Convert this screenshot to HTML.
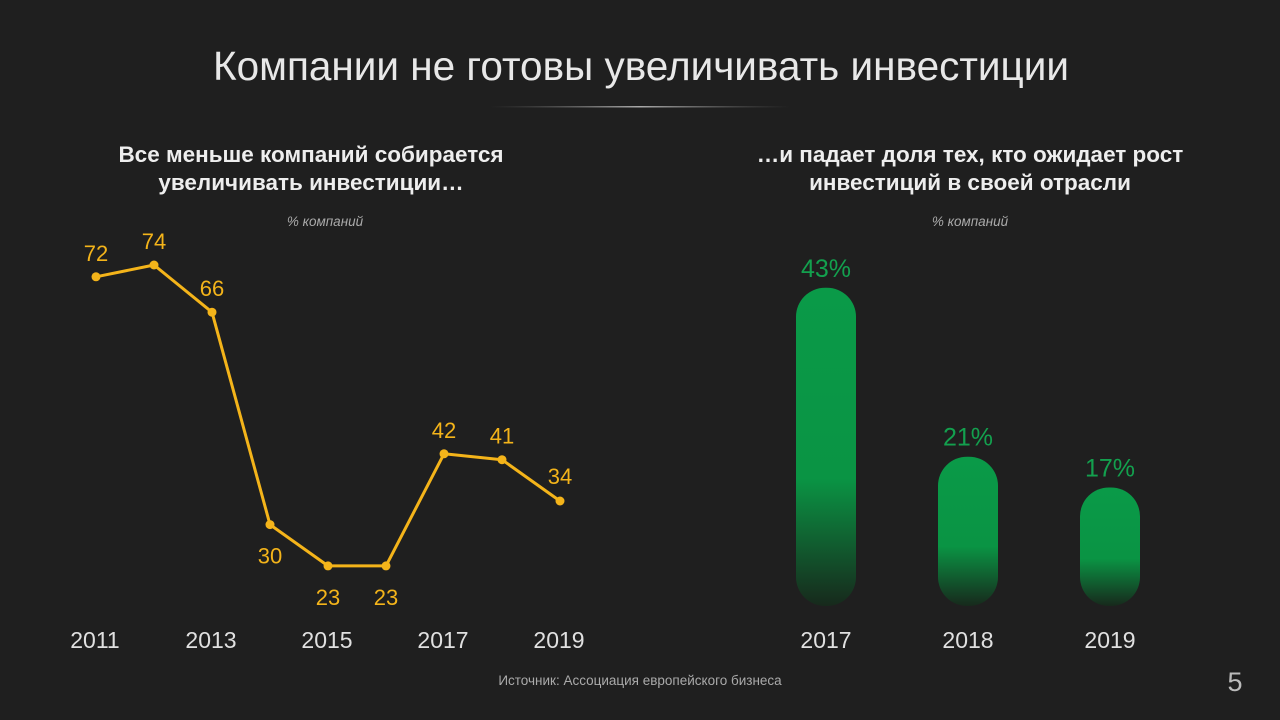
<!DOCTYPE html>
<html><head><meta charset="utf-8"><style>
body{margin:0;width:1280px;height:720px;background:#1f1f1f;overflow:hidden;font-family:"Liberation Sans",sans-serif;}
svg{display:block}
</style></head><body>
<svg width="1280" height="720">
<defs>
<linearGradient id="g" x1="0" y1="0" x2="0" y2="1">
<stop offset="0" stop-color="#0a9a48"/><stop offset="0.6" stop-color="#0a9444"/><stop offset="1" stop-color="#17291c"/>
</linearGradient>
<linearGradient id="hr" x1="0" x2="1"><stop offset="0" stop-color="#666" stop-opacity="0"/><stop offset="0.5" stop-color="#aaa"/><stop offset="1" stop-color="#666" stop-opacity="0"/></linearGradient>
</defs>
<text x="641" y="80" text-anchor="middle" fill="#e8e8e8" font-size="40.5">Компании не готовы увеличивать инвестиции</text>
<rect x="490" y="106" width="300" height="1.5" fill="url(#hr)"/>
<text x="311" y="162" text-anchor="middle" fill="#eee" font-size="22.5" font-weight="bold">Все меньше компаний собирается</text>
<text x="311" y="190" text-anchor="middle" fill="#eee" font-size="22.5" font-weight="bold">увеличивать инвестиции…</text>
<text x="325" y="226" text-anchor="middle" fill="#aaa" font-size="13.5" font-style="italic">% компаний</text>
<text x="970" y="162" text-anchor="middle" fill="#eee" font-size="22.5" font-weight="bold">…и падает доля тех, кто ожидает рост</text>
<text x="970" y="190" text-anchor="middle" fill="#eee" font-size="22.5" font-weight="bold">инвестиций в своей отрасли</text>
<text x="970" y="226" text-anchor="middle" fill="#aaa" font-size="13.5" font-style="italic">% компаний</text>
<g id="line"></g><g id="bars"></g>
<text x="640" y="685" text-anchor="middle" fill="#aaa" font-size="13.5">Источник: Ассоциация европейского бизнеса</text>
<text x="1235" y="691" text-anchor="middle" fill="#bbb" font-size="27">5</text>
</svg>
<script>
const lineYears=[2011,2012,2013,2014,2015,2016,2017,2018,2019];
const lineValues=[72,74,66,30,23,23,42,41,34];
const lineTicks=[2011,2013,2015,2017,2019];
const barYears=["2017","2018","2019"];
const barValues=[43,21,17];
const barLabels=["43%","21%","17%"];
const NS="http://www.w3.org/2000/svg";
function mk(t,a,p){const e=document.createElementNS(NS,t);for(const k in a)e.setAttribute(k,a[k]);p.appendChild(e);return e;}
const xL=y=>96+(y-2011)*58;
const yL=v=>265+(74-v)*5.9;
const lg=document.getElementById('line');
const pts=lineYears.map((y,i)=>xL(y)+','+yL(lineValues[i])).join(' ');
const pl=mk('polyline',{points:pts,fill:'none',stroke:'#f4b41a','stroke-width':3,'stroke-linejoin':'round'},lg);


lineYears.forEach((y,i)=>{
 const v=lineValues[i];
 const c=mk('circle',{cx:xL(y),cy:yL(v),r:4.5,fill:'#f4b41a'},lg);
 
 
 const below=(v<=30);
 let dy=below?39:-16;
 if(i==lineValues.length-1)dy=-17;
 const t=mk('text',{x:xL(y),y:yL(v)+dy,'text-anchor':'middle',fill:'#f4b41a','font-size':22},lg);
 t.textContent=v;
 
 
});
lineTicks.forEach(y=>{
 const t=mk('text',{x:xL(y)-1,y:648,'text-anchor':'middle',fill:'#e0e0e0','font-size':23},lg);
 t.textContent=y;
 
 
});
const bg=document.getElementById('bars');
const base=606,bw=60;
const xB=i=>796+i*142;
const hB=v=>7.68*v-12;
barValues.forEach((v,i)=>{
 const h=hB(v);
 const r=mk('rect',{x:xB(i),y:base-h,width:bw,height:h,rx:29,fill:'url(#g)'},bg);
 
 
 const t=mk('text',{x:xB(i)+bw/2,y:base-h-11,'text-anchor':'middle',fill:'#13a04e','font-size':25},bg);
 t.textContent=barLabels[i];
 
 
 const a=mk('text',{x:xB(i)+bw/2,y:648,'text-anchor':'middle',fill:'#e0e0e0','font-size':23},bg);
 a.textContent=barYears[i];
 
 
});
</script>
</body></html>
